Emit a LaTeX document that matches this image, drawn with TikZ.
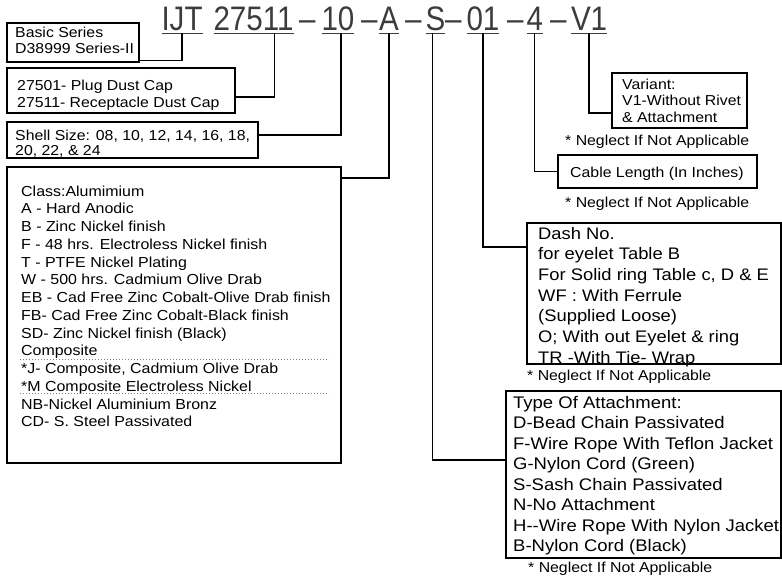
\documentclass[tikz,border=0pt]{standalone}
\usepackage{fontspec}
\usetikzlibrary{calc,positioning}
\setmainfont{Liberation Sans}
\newfontfamily\bodyfont{Liberation Sans}[FakeStretch=1.1]
\newfontfamily\codefont{Liberation Sans}[FakeStretch=0.87]
\definecolor{codegray}{RGB}{60,60,60}
\tikzset{
  box/.style={draw,line width=1.3pt,inner sep=0pt,outer sep=0pt,anchor=north west},
  txt/.style={inner sep=0pt,anchor=north west,align=left},
  field/.style={inner sep=0pt,outer sep=0pt,anchor=base west,text depth=2pt,
    font=\codefont\fontsize{34}{36}\selectfont,text=codegray},
  lead/.style={line width=1.5pt},
  uline/.style={line width=0.9pt,codegray},
  note/.style={inner sep=0pt,anchor=base west,font=\bodyfont\fontsize{14.4}{16}\selectfont}
}

\begin{document}
\begin{tikzpicture}[x=1pt,y=-1pt]
\useasboundingbox (0,0) rectangle (782,578);

% part number
\node [field] (ijt)  at (161.5,31) {IJT};
\node [field] (pnum) at (213.5,31) {27511};
\node [field] (m1)   at (299,31)   {–};
\node [field] (size) at (321.5,31) {10};
\node [field] (m2)   at (361,31)   {–};
\node [field] (cls)  at (379,31)   {A};
\node [field] (m3)   at (405,31)   {–};
\node [field] (att)  at (425.5,31) {S};
\node [field] (m4)   at (445,31)   {–};
\node [field] (dsh)  at (466.5,31) {01};
\node [field] (m5)   at (507,31)   {–};
\node [field] (len)  at (526.5,31) {4};
\node [field] (m6)   at (550,31)   {–};
\node [field] (var)  at (571,31)   {V1};
\foreach \f in {ijt,pnum,size,cls,att,dsh,len,var}
  \draw [uline] (\f.south west) -- (\f.south east);

% boxes on the left
\node [box,minimum width=132,minimum height=39] (basicbox) at (7,23) {};
\node [txt,font=\bodyfont\fontsize{14.4}{15.6}\selectfont] (basic) at (15,27.2)
  {Basic Series\\D38999 Series-II};

\node [box,minimum width=228,minimum height=45] (capbox) at (7,68) {};
\node [txt,font=\bodyfont\fontsize{14.4}{16.6}\selectfont] (cap) at (17,80.2)
  {27501- Plug Dust Cap\\27511- Receptacle Dust Cap};

\node [box,minimum width=251,minimum height=36] (shellbox) at (7,122) {};
\node [txt,font=\bodyfont\fontsize{14.4}{15}\selectfont] (shell) at (15,129.5)
  {Shell Size: 08, 10, 12, 14, 16, 18,\\20, 22, \& 24};

\node [box,minimum width=334,minimum height=296] (clsbox) at (7,167) {};
\node [txt,font=\bodyfont\fontsize{14.5}{17.75}\selectfont] (class) at (21,185.4)
  {Class:Alumimium\\
   A - Hard Anodic\\
   B - Zinc Nickel finish\\
   F - 48 hrs. Electroless Nickel finish\\
   T - PTFE Nickel Plating\\
   W - 500 hrs. Cadmium Olive Drab\\
   EB - Cad Free Zinc Cobalt-Olive Drab finish\\
   FB- Cad Free Zinc Cobalt-Black finish\\
   SD- Zinc Nickel finish (Black)\\
   Composite\\
   *J- Composite, Cadmium Olive Drab\\
   *M Composite Electroless Nickel\\
   NB-Nickel Aluminium Bronz\\
   CD- S. Steel Passivated};
\draw [gray,line width=0.8pt,dash pattern=on 0.8pt off 2.2pt]
  ([shift={(13,192)}]clsbox.north west) -- ([shift={(322,192)}]clsbox.north west);
\draw [gray,line width=0.8pt,dash pattern=on 0.8pt off 2.2pt]
  ([shift={(13,226)}]clsbox.north west) -- ([shift={(322,226)}]clsbox.north west);

% boxes on the right
\node [box,minimum width=135,minimum height=55] (varbox) at (612,73) {};
\node [txt,font=\bodyfont\fontsize{14.4}{16.7}\selectfont] (variant) at (622,78.5)
  {Variant:\\V1-Without Rivet\\\& Attachment};
\node [note] (neg1) at (565,145) {* Neglect If Not Applicable};

\node [box,minimum width=199,minimum height=33] (cablebox) at (558,155) {};
\node [note] (cable) at (570,177) {Cable Length (In Inches)};
\node [note] (neg2) at (565,207) {* Neglect If Not Applicable};

\node [box,minimum width=254,minimum height=141] (dashbox) at (527,223) {};
\node [txt,font=\bodyfont\fontsize{16.7}{20.7}\selectfont] (dash) at (538,226.8)
  {Dash No.\\
   for eyelet Table B\\
   For Solid ring Table c, D \& E\\
   WF : With Ferrule\\
   (Supplied Loose)\\
   O; With out Eyelet \& ring\\
   TR -With Tie- Wrap};
\node [note] (neg3) at (527,380) {* Neglect If Not Applicable};

\node [box,minimum width=275,minimum height=167] (typebox) at (506,391) {};
\node [txt,font=\bodyfont\fontsize{16.8}{20.5}\selectfont] (type) at (513,395.7)
  {Type Of Attachment:\\
   D-Bead Chain Passivated\\
   F-Wire Rope With Teflon Jacket\\
   G-Nylon Cord (Green)\\
   S-Sash Chain Passivated\\
   N-No Attachment\\
   H--Wire Rope With Nylon Jacket\\
   B-Nylon Cord (Black)};
\node [note] (neg4) at (528,572) {* Neglect If Not Applicable};

% leaders
\draw [lead] (ijt.south) |- ([yshift=1.5pt]basicbox.south east);
\draw [lead] ([xshift=-19pt]pnum.south east) |- ([yshift=16pt]capbox.south east);
\draw [lead] ([xshift=3pt]size.south) |- ([yshift=-13pt]shellbox.north east);
\draw [lead] (cls.south) |- ([yshift=-11pt]clsbox.north east);
\draw [lead] ([xshift=-3pt]att.south) |- ([yshift=-69pt]typebox.north west);
\draw [lead] (dsh.south) |- ([yshift=-24pt]dashbox.north west);
\draw [lead] (len.south) |- (cablebox.west);
\draw [lead] (var.south) |- ([yshift=15pt]varbox.south west);
\end{tikzpicture}
\end{document}
